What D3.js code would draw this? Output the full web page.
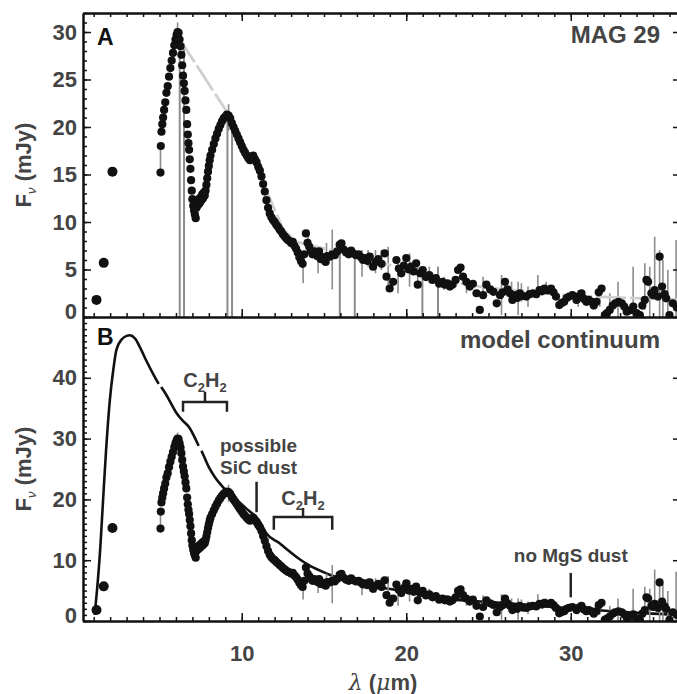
<!DOCTYPE html>
<html>
<head>
<meta charset="utf-8">
<script src="https://cdnjs.cloudflare.com/ajax/libs/d3/7.8.5/d3.min.js"></script>
<style>
  body { margin: 0; background: #fff; }
  svg { display: block; font-family: "Liberation Sans", Arial, sans-serif; }
  .axis path, .axis line { stroke: #111; }
  .axis path.domain { stroke-width: 2; }
  .axis line { stroke-width: 1.5; }
  .axis text { fill: #444; font-weight: bold; font-size: 22px; }
</style>
</head>
<body>
<script>
// photometry points (left of the spectrum)
var photX = [1.17, 1.61, 2.14];
var photY = [1.8, 5.7, 15.3];

// IRS spectrum, wavelength (um) and flux (mJy)
var specX = [5.06,5.08,5.12,5.17,5.22,5.28,5.35,5.42,5.50,5.58,5.66,5.74,5.82,5.90,5.97,6.04,6.10,6.16,6.22,6.28,
  6.33,6.38,6.43,6.48,6.53,6.58,6.63,6.68,6.72,6.76,6.80,6.84,6.88,6.92,6.96,7.00,7.05,7.10,7.15,7.20,
  7.25,7.30,7.35,7.40,7.45,7.50,7.55,7.60,7.65,7.70,7.75,7.80,7.85,7.90,7.95,8.00,8.05,8.10,8.20,8.30,
  8.40,8.50,8.60,8.70,8.80,8.90,9.00,9.10,9.20,9.30,9.40,9.50,9.60,9.70,9.80,9.90,10.0,10.1,10.2,10.3,
  10.4,10.5,10.6,10.7,10.8,10.9,11.0,11.1,11.2,11.3,11.4,11.5,11.6,11.7,11.8,11.9,12.0,12.1,12.2,12.3,
  12.4,12.5,12.6,12.7,12.8,12.9,13.0,13.1,13.2,13.3,13.4,13.5,13.6,13.7,13.8,13.9,14.0,14.1,14.2,14.3,
  14.4,14.5,14.6,14.7,14.8,14.9,15.0,15.1,15.2,15.35,15.5,15.65,15.8,15.95,16.06,16.2,16.35,16.5,16.65,16.77,
  16.95,17.1,17.25,17.37,17.5,17.65,17.78,17.98,18.15,18.3,18.5,18.69,18.8,18.99,19.2,19.4,19.55,19.7,19.85,20.0,
  20.15,20.3,20.45,20.6,20.7,20.85,21.0,21.2,21.4,21.6,21.8,22.0,22.2,22.35,22.5,22.65,22.8,23.0,23.15,23.3,
  23.45,23.65,23.86,24.05,24.27,24.47,24.67,24.87,25.1,25.3,25.5,25.7,25.85,26.0,26.15,26.3,26.45,26.6,26.75,26.9,
  27.1,27.3,27.5,27.7,27.9,28.1,28.25,28.4,28.6,28.8,28.95,29.1,29.3,29.45,29.6,29.75,29.9,30.1,30.35,30.5,
  30.65,30.8,30.95,31.1,31.26,31.4,31.56,31.7,31.87,32.07,32.2,32.37,32.55,32.7,32.9,33.1,33.25,33.4,33.6,33.8,
  34.0,34.2,34.35,34.5,34.6,34.7,34.9,35.0,35.1,35.3,35.4,35.55,35.7,35.8,36.0,36.2,36.45];
var specY = [15.2,18.0,19.5,20.3,21.0,21.8,22.6,23.6,24.3,25.3,26.2,27.0,27.8,28.6,29.2,29.7,30.0,29.9,29.2,28.5,
  27.6,26.5,25.4,24.6,23.8,22.8,21.8,20.3,19.2,18.3,17.6,16.6,15.6,14.4,13.3,12.4,11.7,11.2,10.8,10.4,
  11.5,12.2,11.8,12.4,12.0,12.6,12.3,12.9,12.5,13.1,12.8,13.3,13.9,14.6,15.3,15.9,16.5,17.0,17.6,18.2,
  18.8,19.3,19.8,20.2,20.6,20.9,21.1,21.3,21.2,20.9,20.4,20.0,19.6,19.2,18.8,18.4,18.0,17.6,17.3,17.0,
  16.7,16.5,16.9,17.0,16.6,16.3,15.8,15.4,14.8,14.0,13.2,12.3,11.5,10.9,10.5,10.2,10.0,9.7,9.5,9.2,
  9.0,8.7,8.5,8.3,8.1,8.0,7.8,7.9,7.5,7.2,6.8,6.3,5.9,5.6,6.6,8.8,7.8,7.4,7.0,6.6,
  6.9,6.6,6.4,6.9,6.1,6.3,6.0,5.8,6.4,6.35,6.6,6.5,6.9,7.6,7.76,7.1,6.8,6.6,7.0,6.7,
  6.5,6.6,6.3,6.0,6.2,5.9,6.35,5.3,5.8,6.1,5.6,6.7,4.25,3.0,3.7,6.0,5.1,4.6,5.4,6.2,
  5.0,5.3,4.8,5.65,3.4,4.6,4.95,4.2,4.4,3.9,4.1,3.5,3.7,3.4,3.55,3.2,3.4,3.9,4.95,5.2,
  4.25,3.7,3.2,3.5,2.5,0.74,2.3,3.4,2.9,2.65,1.44,2.3,2.6,3.7,2.9,2.5,1.8,2.3,2.0,2.5,
  2.2,2.15,2.4,2.5,2.4,2.84,2.7,3.0,2.8,3.0,2.6,2.15,1.26,1.5,1.6,2.0,2.15,2.3,1.8,2.2,
  2.5,1.9,1.6,1.8,1.6,1.2,1.6,2.6,3.0,0.2,0.4,0.74,1.2,1.44,1.6,1.44,1.1,0.56,0.7,1.1,
  0.4,0.2,1.2,1.8,3.9,3.7,2.5,2.3,2.84,2.15,6.35,3.2,2.4,1.97,0.2,1.44,1.0];

// visible error bars (low / high flux)
var barX  = [5.06,6.10,9.20,13.73,14.03,14.64,15.15,15.5,17.31,17.68,18.13,18.49,18.9,19.5,20.2,20.7,21.4,22.3,23.05,23.66,
  24.67,25.79,26.4,26.8,27.0,27.4,28.0,28.5,29.6,30.45,31.76,32.37,32.87,33.79,34.5,34.8,35.1,35.4,35.6,35.9,36.4];
var barLo = [15.2,28.5,19.6,3.55,8.1,4.6,5.65,2.9,4.25,5.3,4.6,4.95,2.84,2.5,3.2,3.55,3.55,2.84,3.2,2.5,
  2.15,0.2,1.62,0.2,1.62,1.09,1.97,2.84,1.09,1.09,1.09,0.2,-1,-1,0.74,-1,2.84,-1,-1,-1,-1];
var barHi = [18.0,31.0,22.4,5.65,9.2,7.05,7.8,9.2,7.05,7.05,7.05,7.05,7.4,5.65,6.7,5.3,5.3,4.25,4.25,3.9,
  4.25,4.42,3.72,3.72,3.55,3.2,4.42,3.72,2.15,2.84,2.5,2.5,3.72,5.3,5.65,5.3,8.45,7.05,6.0,4.95,8.1];

// dark grey drop lines in panel A (wavelength, top flux)
var dropX   = [6.23, 6.49, 9.13, 9.41, 15.96, 16.87, 20.98, 21.93];
var dropTop = [29.8, 28.8, 21.4, 20.2, 7.75, 6.7, 5.3, 5.3];

// light grey continuum in panel A
var contX = [6.13, 9.17, 10.4, 11.0, 12.5, 13.3, 15.75, 18.4, 20.4, 22.6, 25.1, 29.7, 32.2, 36.7];
var contY = [29.5, 21.4, 17.3, 15.3, 9.3, 7.9, 6.9, 5.7, 4.95, 3.7, 3.05, 2.3, 2.1, 1.8];

// model continuum in panel B (NaN = break in the curve)
var modelX = [1.06,1.2,1.4,1.57,1.75,1.98,2.2,2.38,2.7,3.0,3.2,3.5,3.8,4.2,4.7,4.95,NaN,5.1,5.3,5.7,
  6.03,6.4,6.84,7.1,7.38,NaN,7.55,7.75,8.0,8.36,8.7,9.07,9.5,9.9,10.4,10.9,11.1,11.5,12.3,12.7,
  13.5,14.0,15.35,16.1,18.0,19.6,22.0,25.7,30.0,33.0,36.7];
var modelY = [1.0,5,12,19.9,28,36.3,41.5,44.6,46.3,46.9,47.0,46.5,45.1,42.8,40.2,39.0,NaN,38.5,37.7,35.8,
  34.2,33.0,31.7,30.4,28.8,NaN,28.0,26.8,25.3,23.7,22.5,21.4,20.4,19.4,18.2,17.0,16.3,14.4,12.8,11.9,
  10.2,9.3,7.6,6.8,5.7,5.0,3.8,3.0,2.1,1.5,1.0];

// axis ticks
var xMajor = [10, 20, 30];
var yMajorA = [0, 5, 10, 15, 20, 25, 30];
var yMajorB = [0, 10, 20, 30, 40];

var W = 677, H = 694;
var left = 83, right = 681, topA = 13, botA = 317, botB = 621;

var svg = d3.select("body").append("svg")
  .attr("width", W).attr("height", H);

var x = d3.scaleLinear().domain([0.35, 36.7]).range([left, right]);
var yA = d3.scaleLinear().domain([0, 32]).range([botA, topA]);
var yB = d3.scaleLinear().domain([0, 50]).range([botB, botA]);

var spec = specX.map(function(d, i){ return {x: d, y: specY[i]}; });
var phot = photX.map(function(d, i){ return {x: d, y: photY[i]}; });
var bars = barX.map(function(d, i){ return {x: d, lo: barLo[i], hi: barHi[i]}; });

// clip each panel
var defs = svg.append("defs");
defs.append("clipPath").attr("id", "clipA").append("rect")
  .attr("x", left).attr("y", topA).attr("width", right - left).attr("height", botA - topA);
defs.append("clipPath").attr("id", "clipB").append("rect")
  .attr("x", left).attr("y", botA).attr("width", right - left).attr("height", botB - botA);

function drawData(g, y, isA){
  // error bars
  g.selectAll("line.err").data(bars).enter().append("line")
    .attr("class", "err")
    .attr("x1", function(d){ return x(d.x); }).attr("x2", function(d){ return x(d.x); })
    .attr("y1", function(d){ return y(d.lo); }).attr("y2", function(d){ return y(d.hi); })
    .attr("stroke", "#8c8c8c").attr("stroke-width", 1.6);

  if (isA) {
    dropX.forEach(function(d, i){
      g.append("line")
        .attr("x1", x(d)).attr("x2", x(d))
        .attr("y1", y(dropTop[i])).attr("y2", y(-2))
        .attr("stroke", "#8c8c8c").attr("stroke-width", 2);
    });
    var cont = contX.map(function(d, i){ return [d, contY[i]]; });
    g.append("path")
      .datum(cont)
      .attr("d", d3.line().x(function(d){ return x(d[0]); }).y(function(d){ return y(d[1]); }))
      .attr("fill", "none").attr("stroke", "#cfcfcf").attr("stroke-width", 2.8)
      .attr("stroke-dasharray", "30,4");
  }

  g.selectAll("circle.spec").data(spec).enter().append("circle")
    .attr("class", "spec")
    .attr("cx", function(d){ return x(d.x); })
    .attr("cy", function(d){ return y(d.y); })
    .attr("r", 4.1).attr("fill", "#111");

  g.selectAll("circle.phot").data(phot).enter().append("circle")
    .attr("class", "phot")
    .attr("cx", function(d){ return x(d.x); })
    .attr("cy", function(d){ return y(d.y); })
    .attr("r", 5).attr("fill", "#111");
}

var gA = svg.append("g").attr("clip-path", "url(#clipA)");
drawData(gA, yA, true);

var gB = svg.append("g").attr("clip-path", "url(#clipB)");
// model continuum
var model = modelX.map(function(d, i){ return [d, modelY[i]]; });
gB.append("path")
  .datum(model)
  .attr("d", d3.line()
    .defined(function(d){ return !isNaN(d[0]); })
    .x(function(d){ return x(d[0]); })
    .y(function(d){ return yB(d[1]); })
    .curve(d3.curveMonotoneX))
  .attr("fill", "none").attr("stroke", "#111").attr("stroke-width", 2.6);
drawData(gB, yB, false);

// ---- axes ----
function ticks(axis, vals, size){
  return axis.tickValues(vals).tickSizeInner(size).tickSizeOuter(0).tickFormat("");
}
var minorX = d3.range(1, 37);

// panel A
svg.append("g").attr("class", "axis").attr("transform", "translate(0," + topA + ")")
  .call(ticks(d3.axisTop(x), minorX, -4));
svg.append("g").attr("class", "axis").attr("transform", "translate(0," + topA + ")")
  .call(ticks(d3.axisTop(x), xMajor, -8));
svg.append("g").attr("class", "axis").attr("transform", "translate(0," + botA + ")")
  .call(ticks(d3.axisBottom(x), minorX, -4));
svg.append("g").attr("class", "axis").attr("transform", "translate(0," + botA + ")")
  .call(ticks(d3.axisBottom(x), xMajor, -8));

svg.append("g").attr("class", "axis").attr("transform", "translate(" + left + ",0)")
  .call(ticks(d3.axisLeft(yA), d3.range(0, 33), -4));
svg.append("g").attr("class", "axis ylab").attr("transform", "translate(" + left + ",0)")
  .call(d3.axisLeft(yA).tickValues(yMajorA).tickSizeInner(-8).tickSizeOuter(0).tickPadding(6));
svg.append("g").attr("class", "axis").attr("transform", "translate(" + right + ",0)")
  .call(ticks(d3.axisRight(yA), d3.range(0, 33), -4));
svg.append("g").attr("class", "axis").attr("transform", "translate(" + right + ",0)")
  .call(ticks(d3.axisRight(yA), yMajorA, -8));

// panel B
svg.append("g").attr("class", "axis").attr("transform", "translate(0," + botB + ")")
  .call(ticks(d3.axisBottom(x), minorX, -4));
svg.append("g").attr("class", "axis").attr("transform", "translate(0," + botB + ")")
  .call(d3.axisBottom(x).tickValues(xMajor).tickSizeInner(-8).tickSizeOuter(0).tickPadding(24));
svg.append("g").attr("class", "axis").attr("transform", "translate(" + left + ",0)")
  .call(ticks(d3.axisLeft(yB), d3.range(0, 51), -4));
svg.append("g").attr("class", "axis ylab").attr("transform", "translate(" + left + ",0)")
  .call(d3.axisLeft(yB).tickValues(yMajorB).tickSizeInner(-8).tickSizeOuter(0).tickPadding(6));
svg.append("g").attr("class", "axis").attr("transform", "translate(" + right + ",0)")
  .call(ticks(d3.axisRight(yB), d3.range(0, 51), -4));
svg.append("g").attr("class", "axis").attr("transform", "translate(" + right + ",0)")
  .call(ticks(d3.axisRight(yB), yMajorB, -8));

// the zero labels sit a bit higher
svg.selectAll(".ylab .tick text").filter(function(d){ return d === 0; }).attr("dy", "0.05em");

// ---- labels ----
svg.append("text").attr("x", 97).attr("y", 45).text("A")
  .attr("font-size", 23).attr("font-weight", "bold").attr("fill", "#111");
svg.append("text").attr("x", 97).attr("y", 345).text("B")
  .attr("font-size", 23).attr("font-weight", "bold").attr("fill", "#111");
svg.append("text").attr("x", 660).attr("y", 43).attr("text-anchor", "end").text("MAG 29")
  .attr("font-size", 24).attr("font-weight", "bold").attr("fill", "#444");
svg.append("text").attr("x", 660).attr("y", 348).attr("text-anchor", "end").text("model continuum")
  .attr("font-size", 24).attr("font-weight", "bold").attr("fill", "#444");

// y titles
[[165], [469]].forEach(function(c){
  var t = svg.append("text")
    .attr("transform", "translate(31," + c[0] + ") rotate(-90)")
    .attr("text-anchor", "middle")
    .attr("font-size", 22).attr("font-weight", "bold").attr("fill", "#444");
  t.append("tspan").text("F");
  t.append("tspan").text("\u03bd").attr("font-size", 13).attr("font-style", "italic")
    .attr("font-weight", "normal").attr("dy", 5);
  t.append("tspan").text(" (mJy)").attr("dy", -5);
});

// x title
var xt = svg.append("text").attr("x", 383).attr("y", 690).attr("text-anchor", "middle")
  .attr("font-size", 22).attr("fill", "#444");
xt.append("tspan").text("\u03bb").attr("font-style", "italic").attr("font-family", "DejaVu Serif");
xt.append("tspan").text(" (").attr("font-weight", "bold");
xt.append("tspan").text("\u03bc").attr("font-style", "italic").attr("font-family", "DejaVu Serif");
xt.append("tspan").text("m)").attr("font-weight", "bold");

// ---- annotations in panel B ----
var ann = svg.append("g").attr("stroke", "#222").attr("stroke-width", 2.5).attr("fill", "none");

function bracket(x0, x1, yTop, yEnd, yStem){
  var xm = (x(x0) + x(x1)) / 2;
  ann.append("path").attr("d",
    "M" + x(x0) + "," + yB(yEnd) + "V" + yB(yTop) + "H" + x(x1) + "V" + yB(yEnd) +
    "M" + xm + "," + yB(yTop) + "V" + yB(yStem));
}
bracket(6.43, 9.1, 36.0, 34.4, 37.7);
bracket(11.95, 15.5, 17.1, 15.0, 18.6);
ann.append("line").attr("x1", x(10.9)).attr("x2", x(10.9)).attr("y1", yB(22.9)).attr("y2", yB(17.9));
ann.append("line").attr("x1", x(30)).attr("x2", x(30)).attr("y1", yB(7.9)).attr("y2", yB(3.9));

function c2h2(cx, base){
  var t = svg.append("text").attr("x", cx).attr("y", base).attr("text-anchor", "middle")
    .attr("font-size", 20).attr("font-weight", "bold").attr("fill", "#444");
  t.append("tspan").text("C");
  t.append("tspan").text("2").attr("font-size", 13).attr("dy", 5);
  t.append("tspan").text("H").attr("dy", -5);
  t.append("tspan").text("2").attr("font-size", 13).attr("dy", 5);
}
c2h2((x(6.43) + x(9.1)) / 2, 387);
c2h2((x(11.95) + x(15.5)) / 2, 505);

function note(tx, ty, str, anchor){
  svg.append("text").attr("x", tx).attr("y", ty).attr("text-anchor", anchor).text(str)
    .attr("font-size", 19).attr("font-weight", "bold").attr("fill", "#444");
}
note(220, 452, "possible", "start");
note(220, 474, "SiC dust", "start");
note(x(30), 562, "no MgS dust", "middle");
</script>
</body>
</html>
